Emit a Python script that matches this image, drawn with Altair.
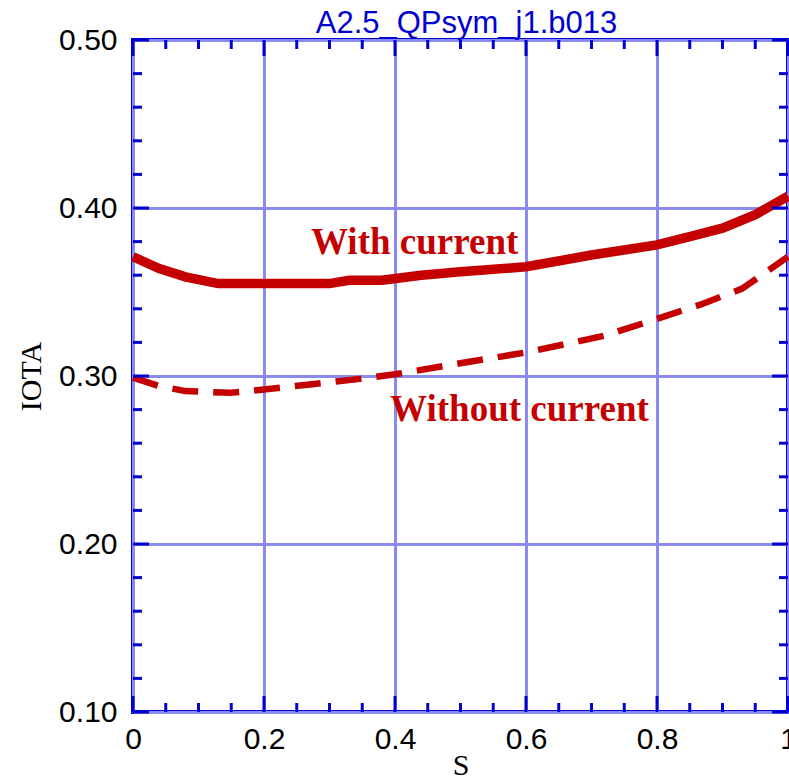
import altair as alt
import pandas as pd

# ---- data ----
s_with = [0, 0.04, 0.08, 0.13, 0.2, 0.3, 0.33, 0.38, 0.44, 0.5, 0.6, 0.7, 0.8, 0.85, 0.9, 0.95, 1.0]
iota_with = [0.371, 0.364, 0.359, 0.355, 0.355, 0.355, 0.357, 0.357, 0.360, 0.362, 0.365, 0.372, 0.378, 0.383, 0.388, 0.396, 0.407]

s_without = [0, 0.04, 0.08, 0.15, 0.2, 0.27, 0.34, 0.4, 0.49, 0.6, 0.72, 0.8, 0.87, 0.93, 1.0]
iota_without = [0.299, 0.294, 0.291, 0.290, 0.292, 0.295, 0.298, 0.301, 0.307, 0.314, 0.324, 0.334, 0.343, 0.352, 0.371]

label_text = ["With current", "Without current"]
label_s = [0.43, 0.59]
label_iota = [0.379, 0.280]

x_major = [0, 0.2, 0.4, 0.6, 0.8, 1.0]
x_minor = [0.05, 0.1, 0.15, 0.25, 0.3, 0.35, 0.45, 0.5, 0.55, 0.65, 0.7, 0.75, 0.85, 0.9, 0.95]
y_major = [0.1, 0.2, 0.3, 0.4, 0.5]
y_minor = [0.12, 0.14, 0.16, 0.18, 0.22, 0.24, 0.26, 0.28, 0.32, 0.34, 0.36, 0.38,
           0.42, 0.44, 0.46, 0.48]

title_text = "A2.5_QPsym_j1.b013"

# ---- layout / style ----
W, H = 655, 672
RED = "#c40000"
BLUE = "#0000d0"
GRID = "#8a8af2"
MAJ, MIN = 16, 9

xscale = alt.Scale(domain=[0, 1], nice=False, zero=False)
yscale = alt.Scale(domain=[0.1, 0.5], nice=False, zero=False)

xaxis = alt.Axis(values=x_major, format="~g", grid=True, gridColor=GRID, gridWidth=3,
                 ticks=False, tickSize=0, domain=False, labelFont="Liberation Sans",
                 labelFontSize=30, labelColor="black", labelPadding=12,
                 title="S", titleFont="Liberation Serif", titleFontSize=30,
                 titleFontWeight="normal", titleColor="black", titlePadding=-4,
                 labelFlush=False, labelOverlap=False)
yaxis = alt.Axis(values=y_major, format=".2f", grid=True, gridColor=GRID, gridWidth=3,
                 ticks=False, tickSize=0, domain=False, labelFont="Liberation Sans",
                 labelFontSize=30, labelColor="black", labelPadding=16,
                 title="IOTA", titleFont="Liberation Serif", titleFontSize=30,
                 titleFontWeight="normal", titleColor="black", titlePadding=12,
                 labelFlush=False, labelOverlap=False)

X = lambda f: alt.X(f, scale=xscale, axis=xaxis)
Y = lambda f: alt.Y(f, scale=yscale, axis=yaxis)

df_with = pd.DataFrame({"s": s_with, "iota": iota_with})
df_without = pd.DataFrame({"s": s_without, "iota": iota_without})
df_lab = pd.DataFrame({"s": label_s, "iota": label_iota, "t": label_text})

solid = alt.Chart(df_with).mark_line(color=RED, strokeWidth=9.5, strokeCap="butt").encode(
    x=X("s:Q"), y=Y("iota:Q"))
dashed = alt.Chart(df_without).mark_line(color=RED, strokeWidth=6.5, strokeDash=[26, 15]).encode(
    x=X("s:Q"), y=Y("iota:Q"))
labels = alt.Chart(df_lab).mark_text(color=RED, font="Liberation Serif", fontSize=37,
                                     fontWeight="bold", baseline="middle", align="center").encode(
    x=X("s:Q"), y=Y("iota:Q"), text="t:N")

def xticks(vals, length):
    d = pd.DataFrame({"s": vals})
    bottom = alt.Chart(d).mark_rule(color=BLUE, strokeWidth=3).encode(
        x=X("s:Q"), y=alt.value(H), y2=alt.value(H - length))
    top = alt.Chart(d).mark_rule(color=BLUE, strokeWidth=3).encode(
        x=X("s:Q"), y=alt.value(0), y2=alt.value(length))
    return [bottom, top]

def yticks(vals, length):
    d = pd.DataFrame({"iota": vals})
    left = alt.Chart(d).mark_rule(color=BLUE, strokeWidth=3).encode(
        y=Y("iota:Q"), x=alt.value(0), x2=alt.value(length))
    right = alt.Chart(d).mark_rule(color=BLUE, strokeWidth=3).encode(
        y=Y("iota:Q"), x=alt.value(W), x2=alt.value(W - length))
    return [left, right]

layers = [solid, dashed, labels] + xticks(x_major, MAJ) + xticks(x_minor, MIN) \
    + yticks(y_major, MAJ) + yticks(y_minor, MIN)

chart = alt.layer(*layers).properties(
    width=W, height=H,
    background="white",
    title=alt.TitleParams(title_text, font="Liberation Sans", fontSize=31, fontWeight="normal",
                          color=BLUE, anchor="middle", baseline="alphabetic", offset=-39,
                          frame="group", dx=6),
    autosize=alt.AutoSizeParams(type="none"),
    padding={"left": 133, "top": 40, "right": 1, "bottom": 70},
).configure_view(stroke=BLUE, strokeWidth=4)

chart.save("out.html", embed_options={"renderer": "svg", "actions": False})
